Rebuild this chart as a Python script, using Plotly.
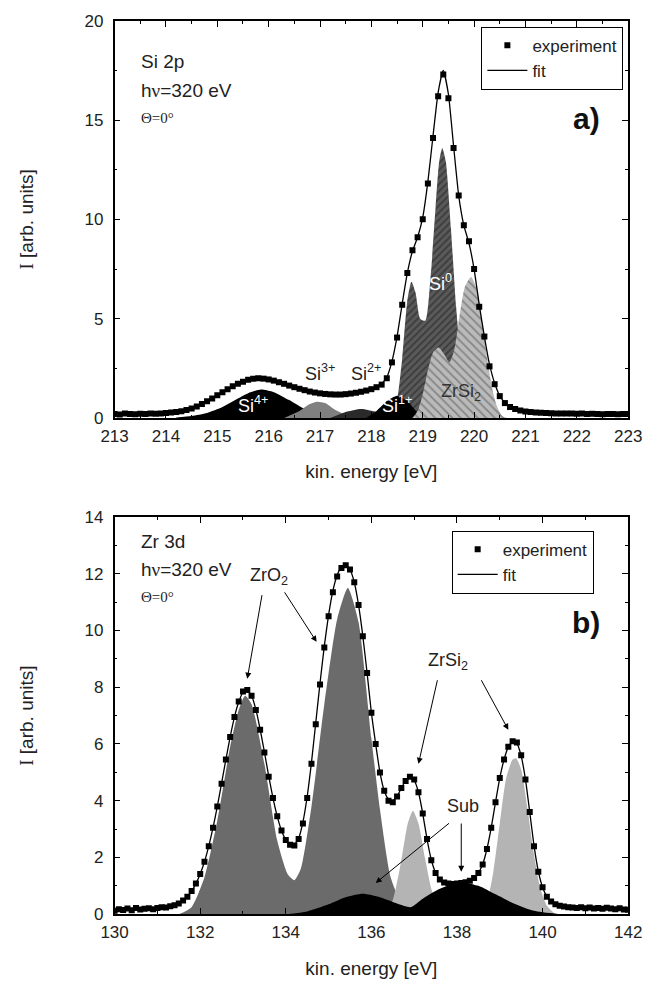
import plotly.graph_objects as go

# ---------------- Panel a) Si 2p ----------------
si_start, si_step, si_n = 213.0, 0.1, 101
si_energy = [round(si_start + si_step * i, 2) for i in range(si_n)]
si_experiment = [
    0.20, 0.18, 0.22, 0.20, 0.19, 0.21, 0.20, 0.22, 0.21, 0.23,
    0.25, 0.27, 0.30, 0.34, 0.40, 0.48, 0.58, 0.70, 0.84, 0.98,
    1.15, 1.30, 1.45, 1.60, 1.72, 1.83, 1.92, 1.98, 2.00, 1.98,
    1.94, 1.88, 1.80, 1.72, 1.63, 1.55, 1.47, 1.40, 1.33, 1.28,
    1.24, 1.21, 1.19, 1.18, 1.18, 1.20, 1.23, 1.27, 1.32, 1.38,
    1.45, 1.55, 1.68, 2.00, 2.80, 4.05, 5.70, 7.30, 8.45, 9.10,
    10.0, 11.8, 14.1, 16.2, 17.3, 16.1, 13.6, 11.2, 9.7, 8.9,
    7.5, 5.6, 4.1, 2.6, 1.7, 1.1, 0.75, 0.55, 0.45, 0.38,
    0.33, 0.30, 0.28, 0.26, 0.25, 0.24, 0.23, 0.23, 0.22, 0.22,
    0.21, 0.22, 0.20, 0.21, 0.20, 0.19, 0.20, 0.20, 0.19, 0.20,
    0.20,
]
si_fit = [
    0.20, 0.20, 0.20, 0.20, 0.20, 0.20, 0.21, 0.21, 0.22, 0.23,
    0.24, 0.27, 0.31, 0.35, 0.41, 0.49, 0.59, 0.71, 0.85, 1.00,
    1.15, 1.30, 1.45, 1.59, 1.72, 1.83, 1.91, 1.96, 1.98, 1.97,
    1.93, 1.87, 1.80, 1.72, 1.63, 1.55, 1.47, 1.40, 1.33, 1.28,
    1.24, 1.21, 1.19, 1.18, 1.19, 1.21, 1.24, 1.28, 1.33, 1.39,
    1.46, 1.56, 1.72, 2.05, 2.85, 4.10, 5.75, 7.30, 8.40, 9.10,
    10.1, 11.9, 14.2, 16.4, 17.5, 16.3, 13.7, 11.2, 9.7, 8.8,
    7.5, 5.7, 4.1, 2.7, 1.75, 1.12, 0.76, 0.56, 0.45, 0.38,
    0.33, 0.30, 0.28, 0.26, 0.25, 0.24, 0.23, 0.22, 0.22, 0.21,
    0.21, 0.21, 0.21, 0.20, 0.20, 0.20, 0.20, 0.20, 0.20, 0.20,
    0.20,
]
# fitted components
si4_x = [214.2, 214.5, 214.8, 215.1, 215.4, 215.6, 215.85, 216.1, 216.4, 216.7, 217.0, 217.3]
si4_y = [0.02, 0.10, 0.25, 0.55, 0.98, 1.25, 1.43, 1.30, 0.90, 0.45, 0.15, 0.02]
si3_x = [216.3, 216.6, 216.8, 216.95, 217.1, 217.3, 217.6]
si3_y = [0.0, 0.35, 0.70, 0.82, 0.75, 0.40, 0.03]
si2_x = [217.2, 217.5, 217.8, 218.1, 218.4]
si2_y = [0.0, 0.30, 0.45, 0.30, 0.03]
si1_x = [217.9, 218.1, 218.3, 218.5, 218.7, 218.85, 219.0]
si1_y = [0.0, 0.35, 0.85, 1.12, 0.85, 0.40, 0.0]
si0_x = [218.30, 218.40, 218.50, 218.60, 218.70, 218.78, 218.86, 218.95, 219.05, 219.15,
         219.25, 219.32, 219.38, 219.45, 219.55, 219.65, 219.75, 219.85, 219.95, 220.05]
si0_y = [0.0, 0.15, 0.90, 3.00, 5.90, 6.86, 6.30, 5.00, 4.90, 7.00,
         10.6, 12.9, 13.6, 12.9, 9.5, 5.6, 2.8, 1.1, 0.3, 0.0]
zrsi_a_x = [218.80, 218.90, 219.00, 219.10, 219.20, 219.31, 219.42, 219.52, 219.62, 219.72,
            219.82, 219.94, 220.05, 220.15, 220.25, 220.35, 220.45, 220.55, 220.65]
zrsi_a_y = [0.0, 0.35, 1.20, 2.40, 3.30, 3.55, 3.20, 2.80, 3.50, 5.20,
            6.60, 7.10, 6.50, 5.00, 3.10, 1.50, 0.55, 0.10, 0.0]

# ---------------- Panel b) Zr 3d ----------------
zr_start, zr_step, zr_n = 130.0, 0.1, 121
zr_energy = [round(zr_start + zr_step * i, 2) for i in range(zr_n)]
zr_experiment = [
    0.12, 0.18, 0.15, 0.20, 0.14, 0.22, 0.17, 0.19, 0.21, 0.18,
    0.22, 0.25, 0.24, 0.28, 0.32, 0.38, 0.48, 0.62, 0.82, 1.08,
    1.42, 1.85, 2.40, 3.05, 3.80, 4.60, 5.45, 6.25, 6.95, 7.50,
    7.85, 7.90, 7.70, 7.20, 6.50, 5.70, 4.85, 4.10, 3.45, 2.95,
    2.62, 2.45, 2.42, 2.65, 3.20, 4.10, 5.30, 6.70, 8.10, 9.40,
    10.50, 11.35, 11.90, 12.20, 12.30, 12.15, 11.70, 10.90, 9.80, 8.50,
    7.10, 6.00, 5.00, 4.35, 4.00, 3.95, 4.15, 4.45, 4.70, 4.85,
    4.75, 4.30, 3.55, 2.65, 1.90, 1.45, 1.22, 1.12, 1.08, 1.07,
    1.08, 1.10, 1.13, 1.18, 1.28, 1.45, 1.75, 2.30, 3.05, 3.95,
    4.80, 5.45, 5.90, 6.10, 6.05, 5.60, 4.75, 3.60, 2.40, 1.50,
    0.95, 0.62, 0.45, 0.35, 0.30, 0.27, 0.25, 0.24, 0.22, 0.25,
    0.21, 0.24, 0.20, 0.22, 0.19, 0.23, 0.20, 0.18, 0.21, 0.17,
    0.16,
]
zr_fit = [
    0.16, 0.16, 0.17, 0.17, 0.17, 0.18, 0.18, 0.18, 0.19, 0.19,
    0.20, 0.22, 0.24, 0.27, 0.31, 0.37, 0.47, 0.61, 0.81, 1.08,
    1.42, 1.85, 2.40, 3.05, 3.80, 4.62, 5.45, 6.25, 6.95, 7.48,
    7.82, 7.88, 7.70, 7.22, 6.52, 5.72, 4.88, 4.10, 3.45, 2.95,
    2.62, 2.46, 2.45, 2.68, 3.25, 4.15, 5.35, 6.75, 8.15, 9.45,
    10.55, 11.40, 11.95, 12.25, 12.32, 12.15, 11.70, 10.90, 9.80, 8.50,
    7.10, 6.00, 5.00, 4.35, 4.05, 4.00, 4.15, 4.45, 4.70, 4.82,
    4.72, 4.30, 3.55, 2.65, 1.92, 1.46, 1.23, 1.12, 1.08, 1.07,
    1.08, 1.10, 1.13, 1.19, 1.29, 1.46, 1.76, 2.30, 3.05, 3.95,
    4.80, 5.45, 5.90, 6.08, 6.02, 5.58, 4.75, 3.60, 2.42, 1.52,
    0.95, 0.62, 0.45, 0.36, 0.30, 0.27, 0.25, 0.24, 0.23, 0.22,
    0.21, 0.21, 0.20, 0.20, 0.20, 0.19, 0.19, 0.19, 0.18, 0.18,
    0.18,
]
zro2_x = [131.5, 131.8, 132.1, 132.4, 132.7, 132.9, 133.05, 133.2, 133.5, 133.8, 134.05, 134.2,
          134.35, 134.6, 134.9, 135.2, 135.45, 135.7, 136.0, 136.2, 136.45, 136.7, 137.0, 137.2]
zro2_y = [0.0, 0.25, 1.3, 3.3, 5.9, 7.2, 7.7, 7.4, 5.3, 2.6, 1.4, 1.2,
          1.6, 3.8, 7.4, 10.4, 11.5, 10.3, 6.2, 3.7, 1.3, 0.4, 0.05, 0.0]
zrsi_b1_x = [136.3, 136.5, 136.7, 136.85, 136.97, 137.1, 137.25, 137.4, 137.55, 137.7]
zrsi_b1_y = [0.0, 0.5, 1.9, 3.2, 3.65, 3.2, 2.0, 0.9, 0.25, 0.0]
zrsi_b2_x = [138.5, 138.7, 138.85, 139.0, 139.15, 139.3, 139.38, 139.5, 139.65, 139.8, 139.95, 140.1, 140.3]
zrsi_b2_y = [0.0, 0.45, 1.5, 3.2, 4.8, 5.45, 5.5, 5.1, 3.7, 2.1, 0.9, 0.3, 0.0]
sub_x = [134.0, 134.5, 135.0, 135.4, 135.8, 136.2, 136.6, 136.92, 137.2, 137.6, 138.1, 138.5, 138.9, 139.3, 139.8, 140.4]
sub_y = [0.0, 0.10, 0.35, 0.60, 0.72, 0.60, 0.38, 0.25, 0.55, 0.90, 1.12, 1.00, 0.70, 0.40, 0.12, 0.0]

# ---------------- figure ----------------
W, H = 669, 987
FONT = "Liberation Sans"
fig = go.Figure()


def comp(x, y, xa, ya, color, pattern=None):
    kw = dict(x=x, y=y, xaxis=xa, yaxis=ya, mode="lines", fill="tozeroy",
              line=dict(width=0, shape="spline", smoothing=0.6, color=color),
              fillcolor=color, showlegend=False, hoverinfo="skip")
    if pattern:
        kw["fillpattern"] = pattern
    fig.add_trace(go.Scatter(**kw))


# panel a components
comp(si4_x, si4_y, "x", "y", "#000000")
comp(si3_x, si3_y, "x", "y", "#808080")
comp(si2_x, si2_y, "x", "y", "#2a2a2a")
comp(si0_x, si0_y, "x", "y", "#555555",
     dict(shape="/", fgcolor="#1e1e1e", bgcolor="#5a5a5a", size=5, solidity=0.35))
comp(si1_x, si1_y, "x", "y", "#000000")
comp(zrsi_a_x, zrsi_a_y, "x", "y", "#b8b8b8",
     dict(shape="\\", fgcolor="#505050", bgcolor="#bababa", size=6, solidity=0.3))

fig.add_trace(go.Scatter(x=si_energy, y=si_fit, xaxis="x", yaxis="y", mode="lines",
                         line=dict(color="black", width=1.3, shape="spline", smoothing=0.5),
                         name="fit", legend="legend", legendrank=2))
fig.add_trace(go.Scatter(x=si_energy, y=si_experiment, xaxis="x", yaxis="y", mode="markers",
                         marker=dict(symbol="square", size=6, color="black"),
                         name="experiment", legend="legend", legendrank=1))

# panel b components
comp(zro2_x, zro2_y, "x2", "y2", "#6b6b6b")
comp(zrsi_b1_x, zrsi_b1_y, "x2", "y2", "#b4b4b4")
comp(zrsi_b2_x, zrsi_b2_y, "x2", "y2", "#b4b4b4")
comp(sub_x, sub_y, "x2", "y2", "#000000")

fig.add_trace(go.Scatter(x=zr_energy, y=zr_fit, xaxis="x2", yaxis="y2", mode="lines",
                         line=dict(color="black", width=1.3, shape="spline", smoothing=0.5),
                         name="fit", legend="legend2", legendrank=2))
fig.add_trace(go.Scatter(x=zr_energy, y=zr_experiment, xaxis="x2", yaxis="y2", mode="markers",
                         marker=dict(symbol="square", size=6, color="black"),
                         name="experiment", legend="legend2", legendrank=1))

# ---------------- layout ----------------
xdom = [105 / W, 641 / W]
ydom_a = [1 - 417 / H, 1 - 12 / H]
ydom_b = [1 - 923 / H, 1 - 518 / H]

axis_common = dict(showline=True, linecolor="black", linewidth=1.5, mirror="ticks",
                   ticks="inside", ticklen=6, tickwidth=1.3, tickcolor="black",
                   showgrid=False, zeroline=False,
                   tickfont=dict(family=FONT, size=17, color="#222"))
TITLE_FONT = dict(family=FONT, size=19, color="#222")
YTITLE = "<span style='font-family:Liberation Serif'>I</span> [arb. units]"

fig.update_layout(
    width=W, height=H, margin=dict(l=0, r=0, t=0, b=0),
    paper_bgcolor="white", plot_bgcolor="white",
    font=dict(family=FONT, color="#222"),
    xaxis=dict(domain=xdom, anchor="y", range=[213, 223], dtick=1, tick0=213,
               minor=dict(dtick=0.5, ticklen=3, tickcolor="black", ticks="inside"),
               title=dict(text="kin. energy [eV]", font=TITLE_FONT, standoff=20),
               ticklabelstandoff=2, **axis_common),
    yaxis=dict(domain=ydom_a, anchor="x", range=[0, 20], dtick=5,
               minor=dict(dtick=2.5, ticklen=3, tickcolor="black", ticks="inside"),
               title=dict(text=YTITLE, font=TITLE_FONT, standoff=46),
               ticklabelstandoff=6, **axis_common),
    xaxis2=dict(domain=xdom, anchor="y2", range=[130, 142], dtick=2, tick0=130,
                minor=dict(dtick=1, ticklen=3, tickcolor="black", ticks="inside"),
                title=dict(text="kin. energy [eV]", font=TITLE_FONT, standoff=20),
                ticklabelstandoff=2, **axis_common),
    yaxis2=dict(domain=ydom_b, anchor="x2", range=[0, 14], dtick=2,
                minor=dict(dtick=1, ticklen=3, tickcolor="black", ticks="inside"),
                title=dict(text=YTITLE, font=TITLE_FONT, standoff=46),
                ticklabelstandoff=6, **axis_common),
    legend=dict(x=636 / W, y=1 - 18 / H, xanchor="right", yanchor="top",
                bordercolor="black", borderwidth=1, bgcolor="white",
                font=dict(family=FONT, size=17), itemwidth=40, tracegroupgap=0,
                traceorder="normal"),
    legend2=dict(x=605 / W, y=1 - 532 / H, xanchor="right", yanchor="top",
                 bordercolor="black", borderwidth=1, bgcolor="white",
                 font=dict(family=FONT, size=17), itemwidth=40, tracegroupgap=0,
                 traceorder="normal"),
)

ann = []


def txt(text, x, y, xref, yref, size=19, color="#222", xanchor="center", family=FONT, bold=False):
    if bold:
        text = "<b>" + text + "</b>"
    ann.append(dict(text=text, x=x, y=y, xref=xref, yref=yref, showarrow=False,
                    xanchor=xanchor, yanchor="middle",
                    font=dict(family=family, size=size, color=color)))


NU = "h<span style='font-family:Liberation Serif'>ν</span>=320 eV"
# panel a labels
txt("Si 2p", 130 / W, 1 - 54 / H, "paper", "paper", xanchor="left")
txt(NU, 130 / W, 1 - 83 / H, "paper", "paper", xanchor="left")
txt("Θ=0°", 130 / W, 1 - 111 / H, "paper", "paper", size=15, xanchor="left", family="Liberation Serif")
txt("a)", 597 / W, 1 - 112 / H, "paper", "paper", size=30, color="#111", bold=True)
txt("Si<sup>4+</sup>", 215.7, 0.7, "x", "y", size=18, color="white")
txt("Si<sup>3+</sup>", 217.0, 2.3, "x", "y", size=18)
txt("Si<sup>2+</sup>", 217.9, 2.3, "x", "y", size=18)
txt("Si<sup>1+</sup>", 218.5, 0.7, "x", "y", size=18, color="white")
txt("Si<sup>0</sup>", 219.35, 6.8, "x", "y", size=18, color="white")
txt("ZrSi<sub>2</sub>", 219.75, 1.3, "x", "y", size=18, color="#333")

# panel b labels
txt("Zr 3d", 130 / W, 1 - 543 / H, "paper", "paper", xanchor="left")
txt(NU, 130 / W, 1 - 572 / H, "paper", "paper", xanchor="left")
txt("Θ=0°", 130 / W, 1 - 600 / H, "paper", "paper", size=15, xanchor="left", family="Liberation Serif")
txt("b)", 597 / W, 1 - 626 / H, "paper", "paper", size=30, color="#111", bold=True)
txt("ZrO<sub>2</sub>", 133.6, 11.9, "x2", "y2", size=18)
txt("ZrSi<sub>2</sub>", 137.8, 8.9, "x2", "y2", size=18)
txt("Sub", 138.15, 3.8, "x2", "y2", size=18)


def arrow(x, y, ax, ay):
    ann.append(dict(text="", x=x, y=y, ax=ax, ay=ay, xref="x2", yref="y2",
                    axref="x2", ayref="y2", showarrow=True, arrowhead=2,
                    arrowsize=1.2, arrowwidth=1, arrowcolor="black"))


arrow(133.1, 8.3, 133.45, 11.3)
arrow(134.72, 9.6, 133.95, 11.4)
arrow(137.1, 5.3, 137.55, 8.3)
arrow(139.2, 6.5, 138.55, 8.3)
arrow(138.1, 1.5, 138.1, 3.25)
arrow(136.1, 1.1, 137.85, 3.25)

fig.update_layout(annotations=ann)
fig.write_html("out.html")
